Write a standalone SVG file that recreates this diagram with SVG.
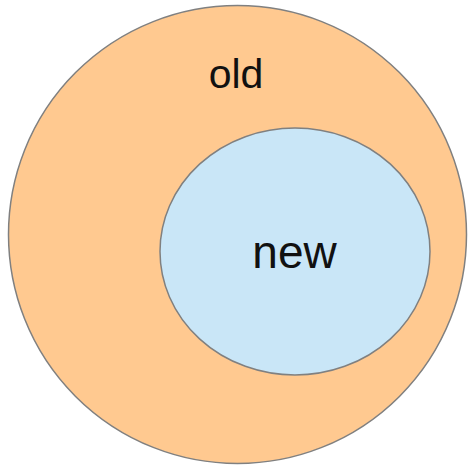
<svg xmlns="http://www.w3.org/2000/svg" width="471" height="468" viewBox="0 0 471 468">
<style>
.shape{stroke:#808080;stroke-width:1.5}
.lbl{font-family:"Liberation Sans",Arial,sans-serif;fill:#111;text-anchor:middle}
</style>
<rect width="471" height="468" fill="#ffffff"/>
<g id="old">
<circle class="shape" cx="237.5" cy="234.5" r="229" fill="#ffc990"/>
<text class="lbl" x="236" y="88" font-size="41">old</text>
</g>
<g id="new">
<ellipse class="shape" cx="295" cy="251.5" rx="135" ry="123.5" fill="#c9e6f7"/>
<text class="lbl" x="294.5" y="268" font-size="46">new</text>
</g>
<g id="connectors"/>
</svg>
